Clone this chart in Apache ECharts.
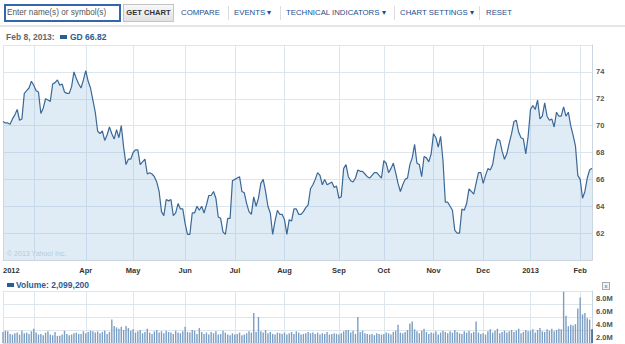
<!DOCTYPE html>
<html><head><meta charset="utf-8">
<script src="https://cdn.jsdelivr.net/npm/echarts@6/dist/echarts.min.js"></script>
<style>
body{margin:0;width:625px;height:344px;overflow:hidden;background:#fff;font-family:"Liberation Sans",Arial,sans-serif;position:relative}
#chart{position:absolute;left:0;top:0;width:625px;height:344px}
.abs{position:absolute;white-space:nowrap}
.lnk{color:#1f4e8c;font-size:7.8px;top:8px}
.sep{position:absolute;top:6px;width:1px;height:14px;background:#dcdcdc}
</style></head>
<body>
<div id="chart"></div>
<div class="abs" style="left:4px;top:4px;width:112px;height:14px;border:2px solid #3466b0;font-size:8.2px;color:#555;line-height:14px;padding-left:1px">Enter name(s) or symbol(s)</div>
<div class="abs" style="left:123px;top:4px;width:49px;height:16px;border:1px solid #c4c4c4;background:linear-gradient(#f8f8f8,#e2e2e2);font-size:7.6px;font-weight:bold;color:#333;line-height:16px;text-align:center">GET CHART</div>
<div class="abs lnk" style="left:181px">COMPARE</div>
<div class="sep" style="left:228px"></div>
<div class="abs lnk" style="left:234px">EVENTS &#9662;</div>
<div class="sep" style="left:280px"></div>
<div class="abs lnk" style="left:286px">TECHNICAL INDICATORS &#9662;</div>
<div class="sep" style="left:394px"></div>
<div class="abs lnk" style="left:400px">CHART SETTINGS &#9662;</div>
<div class="sep" style="left:479px"></div>
<div class="abs lnk" style="left:486px">RESET</div>
<div class="abs" style="left:0;top:25px;width:625px;height:2px;background:#e6e6e6"></div>
<div class="abs" style="left:6px;top:32px;font-size:8.5px;font-weight:bold;color:#666">Feb 8, 2013:</div>
<div class="abs" style="left:60px;top:35px;width:7px;height:4px;background:#2a5d94"></div>
<div class="abs" style="left:70px;top:32px;font-size:8.5px;font-weight:bold;color:#2a5d94">GD 66.82</div>
<div class="abs" style="left:7px;top:283px;width:7px;height:4px;background:#2a5d94"></div>
<div class="abs" style="left:16px;top:280px;font-size:8.5px;font-weight:bold;color:#2a5d94">Volume: 2,099,200</div>
<div class="abs" style="left:602px;top:282px;width:6px;height:6px;border:1px solid #aaa;background:#f2f2f2;font-size:6px;line-height:6px;text-align:center;color:#555">x</div>
<script>
// Trading days: Feb 10, 2012 .. Feb 8, 2013
const startDate = '2012-02-10';
const endDate = '2013-02-08';
const holidays = ['2012-02-20','2012-04-06','2012-05-28','2012-07-04','2012-09-03','2012-10-29','2012-10-30','2012-11-22','2012-12-25','2013-01-01','2013-01-21'];
const monthNames = ['Jan','Feb','Mar','Apr','May','Jun','Jul','Aug','Sep','Oct','Nov','Dec'];

// Closing prices (USD)
const prices = [
70.3,70.2,70.2,70.1,70.5,70.8,71.2,70.4,70.5,72.4,72.6,72.8,73.3,
73.0,72.6,72.5,70.9,71.3,72.0,71.9,71.8,73.1,73.2,73.4,73.0,73.1,72.5,72.4,72.4,72.9,74.0,73.5,73.1,72.8,73.4,
74.1,73.3,72.8,71.9,71.0,69.6,69.4,69.6,68.9,69.3,69.9,69.4,69.0,69.7,69.1,70.0,68.4,67.1,67.5,67.5,
68.0,68.2,68.2,67.1,67.3,67.5,66.4,66.5,66.4,66.2,65.8,65.1,63.6,63.3,64.5,64.4,64.5,63.3,63.5,64.2,63.8,63.8,
62.7,61.9,61.9,63.5,63.5,64.0,63.7,64.0,63.5,64.1,64.8,64.8,65.1,64.6,63.2,63.1,62.1,61.9,63.1,63.1,65.9,
66.0,66.1,66.2,65.1,65.0,64.2,63.6,63.4,64.7,64.0,64.6,65.7,66.0,65.1,64.0,63.5,61.9,62.9,63.7,63.4,63.4,
63.0,61.9,63.0,62.9,63.8,63.8,63.4,63.4,63.6,63.9,64.1,65.3,65.6,66.0,66.5,66.3,65.6,66.0,65.6,65.7,65.8,65.4,65.5,
64.6,64.7,66.8,67.1,66.2,65.9,65.8,66.1,66.7,66.6,66.6,66.4,66.2,66.1,66.3,66.5,66.5,66.3,66.1,
67.4,67.2,66.5,66.8,67.2,66.5,65.7,65.1,65.6,66.0,66.1,67.1,67.6,68.6,67.2,67.1,66.2,67.7,67.6,67.3,67.9,
69.4,69.1,68.4,69.2,67.4,64.3,64.3,64.0,63.7,62.2,62.0,62.0,63.8,63.7,64.2,65.3,65.1,64.9,65.7,66.5,66.5,
65.7,66.3,66.8,66.7,67.1,68.2,69.0,68.9,68.1,67.5,67.9,68.7,69.4,70.3,70.4,69.5,69.1,69.0,67.9,69.2,
71.2,71.5,71.2,71.9,70.5,70.7,71.7,70.7,70.4,70.5,69.9,71.0,70.7,70.7,71.4,70.7,71.0,70.0,69.3,68.5,66.3,
66.0,64.6,65.1,66.1,66.7,66.82
];

// Daily volume (millions of shares)
const volumes = [
1.7,1.9,1.8,1.4,1.3,1.5,1.6,1.3,1.9,1.5,1.6,1.4,1.8,
2.2,1.6,1.3,1.4,1.2,1.6,1.8,1.3,1.2,1.7,1.1,1.1,1.3,1.9,1.4,1.2,1.3,1.5,1.6,1.4,1.4,1.8,
1.5,1.7,1.9,1.8,1.6,1.8,1.5,1.7,1.9,1.4,1.7,3.6,2.6,2.4,2.2,2.5,2.0,2.6,2.3,1.9,
2.1,1.6,1.8,2.0,1.5,1.7,2.2,1.6,1.4,1.8,2.0,1.6,1.8,1.5,1.9,1.7,1.6,1.4,1.9,1.6,1.5,1.8,
2.5,1.7,1.6,2.0,1.9,1.4,2.3,1.7,1.4,1.6,1.3,1.7,1.5,1.8,1.3,1.4,1.9,1.6,1.3,1.2,1.5,
1.3,1.4,1.6,1.2,1.3,1.5,1.8,1.6,4.6,1.7,4.0,1.8,1.6,2.0,1.5,1.7,1.4,1.3,1.6,1.5,1.4,
1.6,1.3,1.5,1.7,1.4,1.8,1.6,1.3,1.4,1.5,1.7,1.5,1.6,1.4,1.6,1.3,1.5,1.4,1.7,1.3,1.4,1.5,1.4,
1.3,1.5,1.8,2.0,2.0,1.6,1.9,1.4,4.0,1.7,1.9,1.5,1.4,1.3,1.4,1.2,1.5,1.4,1.3,
1.4,1.6,1.5,1.3,1.7,1.9,2.8,1.6,1.5,1.7,2.0,3.0,3.3,2.1,1.8,1.5,1.9,2.2,1.7,1.4,1.6,
1.5,1.8,1.3,1.6,1.9,1.7,1.5,1.8,1.6,2.0,1.7,1.5,1.4,1.8,1.6,1.9,1.5,1.7,3.3,1.6,1.4,
1.5,1.3,1.8,2.1,1.6,1.9,2.2,1.5,1.7,1.9,1.6,1.8,2.0,1.7,1.9,2.2,1.5,1.7,2.0,1.8,
1.9,2.1,1.6,2.0,2.3,1.8,1.7,2.1,1.9,2.2,1.8,2.0,2.2,2.1,7.9,4.2,2.6,2.8,2.7,2.9,5.3,
7.0,4.4,4.6,3.8,3.6,2.1
];

const priceTicks = [62,64,66,68,70,72,74];
const volumeTicks = [2,4,6,8];

// build trading-day categories
function ymd(d){return d.getUTCFullYear()+'-'+String(d.getUTCMonth()+1).padStart(2,'0')+'-'+String(d.getUTCDate()).padStart(2,'0');}
const dates = [];
for (let d = new Date(startDate+'T00:00:00Z'); ymd(d) <= endDate; d.setUTCDate(d.getUTCDate()+1)) {
  const wd = d.getUTCDay();
  const s = ymd(d);
  if (wd === 0 || wd === 6 || holidays.indexOf(s) >= 0) continue;
  dates.push(s);
}
function isMonthStart(i){ return i === 0 || dates[i].slice(0,7) !== dates[i-1].slice(0,7); }
function labelFor(i){
  const m = +dates[i].slice(5,7);
  if (i === 0 || m === 1) return dates[i].slice(0,4);
  return monthNames[m-1];
}
function isLabel(i){ return isMonthStart(i) && !(i > 0 && dates[i].slice(5,7)==='03' && dates[i].slice(0,4)==='2012'); }

const gridColor = '#dde5ed';
const labelFont = {fontFamily:'"Liberation Sans", Arial, sans-serif', fontWeight:'bold', fontSize:7.5};

const chart = echarts.init(document.getElementById('chart'), null, {renderer:'svg'});
chart.setOption({
  animation:false,
  grid:[
    {left:3, right:33, top:45, bottom:84},
    {left:3, right:33, top:291, bottom:1}
  ],
  xAxis:[
    {type:'category', gridIndex:0, data:dates, boundaryGap:false,
     axisLine:{show:true, lineStyle:{color:'#c9d5e0'}},
     axisTick:{show:false},
     axisLabel:Object.assign({interval:(i)=>isLabel(i), formatter:(v,i)=>labelFor(i), color:'#333', margin:6, alignMinLabel:'left'}, labelFont),
     splitLine:{show:true, interval:(i)=>isMonthStart(i), lineStyle:{color:gridColor, width:1}}},
    {type:'category', gridIndex:1, data:dates, boundaryGap:false,
     axisLine:{show:true, lineStyle:{color:'#c9d5e0'}},
     axisTick:{show:false}, axisLabel:{show:false},
     splitLine:{show:true, interval:(i)=>isMonthStart(i), lineStyle:{color:gridColor, width:1}}}
  ],
  yAxis:[
    {type:'value', gridIndex:0, position:'right', min:60, max:76, interval:2,
     axisLine:{show:true, lineStyle:{color:'#c9d5e0'}}, axisTick:{show:false},
     axisLabel:Object.assign({color:'#555', margin:4, formatter:(v)=>priceTicks.indexOf(v)>=0?String(v):''}, labelFont),
     splitLine:{show:true, lineStyle:{color:gridColor, width:1}}},
    {type:'value', gridIndex:1, position:'right', min:0, max:8, interval:2,
     axisLine:{show:true, lineStyle:{color:'#c9d5e0'}}, axisTick:{show:false},
     axisLabel:Object.assign({color:'#555', margin:4, verticalAlign:'top', padding:[3,0,0,0], formatter:(v)=>volumeTicks.indexOf(v)>=0?v.toFixed(1)+'M':''}, labelFont),
     splitLine:{show:true, lineStyle:{color:gridColor, width:1}}}
  ],
  graphic:[
    {type:'text', left:7, top:250, style:{text:'\u00a9 2013 Yahoo! Inc.', fill:'#c3d2de', font:'7px "Liberation Sans", Arial, sans-serif'}}
  ],
  series:[
    {type:'line', xAxisIndex:0, yAxisIndex:0, data:prices, symbol:'none',
     lineStyle:{color:'#3a6897', width:1.2},
     areaStyle:{color:'rgba(140,184,216,0.38)', origin:'start'}},
    {type:'bar', xAxisIndex:1, yAxisIndex:1, barWidth:1.4,
     data:volumes.map((v,i)=> i===volumes.length-1 ? {value:v, itemStyle:{color:'#1d4c86'}} : v),
     itemStyle:{color:'#7b9ec4'}}
  ]
});
</script>
</body></html>
